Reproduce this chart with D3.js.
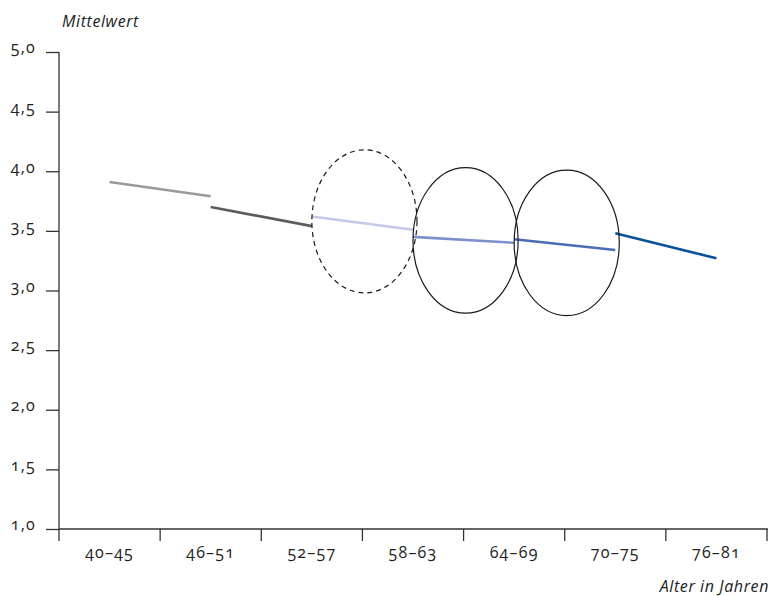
<!DOCTYPE html>
<html><head><meta charset="utf-8">
<script src="https://cdn.jsdelivr.net/npm/d3@7"></script>
<style>
body{margin:0;background:#fff;}
text{font-family:"Open Sans","Noto Sans",sans-serif;font-variant-numeric:oldstyle-nums;fill:#222;}
</style></head><body>
<svg id="c" width="771" height="596"></svg>
<script>
const categories = ["40–45","46–51","52–57","58–63","64–69","70–75","76–81"];
const yTicks = [1.0,1.5,2.0,2.5,3.0,3.5,4.0,4.5,5.0];
// segment: from category index i to i+1, start value, end value, color
const segStart = [3.91, 3.70, 3.62, 3.45, 3.43, 3.48];
const segEnd   = [3.79, 3.54, 3.51, 3.40, 3.34, 3.27];
const segColors = ["#9a9a9a","#5c5c5c","#c3c9e6","#7d90cb","#4a6cb4","#0c4f9c"];
// ellipses around segments: segment index, centre value, half-height (value units), dashed
const ellSeg = [2, 3, 4];
const ellCenter = [3.58, 3.42, 3.40];
const ellHalf = [0.60, 0.61, 0.61];
const ellDashed = [true, false, false];

const svg = d3.select("#c");
const x = d3.scaleBand().domain(categories).range([59, 767]);
const y = d3.scaleLinear().domain([1, 5]).range([529, 52]);
const cx = i => x(categories[i]) + x.bandwidth()/2;
const fmt = d => d.toFixed(1).replace(".", ",");

// y axis
const ya = svg.append("g").attr("transform","translate(59,0)")
  .call(d3.axisLeft(y).tickValues(yTicks).tickFormat(fmt).tickSize(13).tickPadding(10));
ya.select(".domain").attr("stroke","#333").attr("stroke-width",1.3).attr("d","M0,52V529");
ya.selectAll(".tick line").attr("stroke","#333").attr("stroke-width",1.3);
ya.selectAll(".tick text").style("font-size","16px").style("letter-spacing","1.2px").attr("dy","0.05em");

// x axis
const xa = svg.append("g").attr("transform","translate(0,529)")
  .call(d3.axisBottom(x).tickSize(0).tickPadding(18));
xa.select(".domain").attr("stroke","#333").attr("stroke-width",1.3).attr("d","M59,0H768");
xa.selectAll(".tick text").style("font-size","16px").style("letter-spacing","1.2px");
xa.selectAll(".bt").data(categories).enter().append("line")
  .attr("x1",d=>x(d)).attr("x2",d=>x(d)).attr("y1",0).attr("y2",12)
  .attr("stroke","#333").attr("stroke-width",1.3);
xa.append("line").attr("x1",767).attr("x2",767).attr("y1",0).attr("y2",12)
  .attr("stroke","#333").attr("stroke-width",1.3);

// segments
svg.append("g").selectAll("line").data(segStart).enter().append("line")
  .attr("x1",(d,i)=>cx(i)).attr("x2",(d,i)=>cx(i+1))
  .attr("y1",d=>y(d)).attr("y2",(d,i)=>y(segEnd[i]))
  .attr("stroke",(d,i)=>segColors[i]).attr("stroke-width",2.6);

// ellipses
svg.append("g").selectAll("ellipse").data(ellSeg).enter().append("ellipse")
  .attr("cx",d=>(cx(d)+cx(d+1))/2 + 2)
  .attr("cy",(d,i)=>y(ellCenter[i]))
  .attr("rx",d=>(cx(d+1)-cx(d))/2 + 2)
  .attr("ry",(d,i)=>y(ellCenter[i]-ellHalf[i]) - y(ellCenter[i]))
  .attr("fill","none").attr("stroke","#1a1a1a").attr("stroke-width",1.2)
  .attr("stroke-dasharray",(d,i)=>ellDashed[i]?"5,4":null);

// titles
svg.append("text").attr("x",62).attr("y",27).style("font-size","16px").style("letter-spacing","0.6px").style("font-style","italic").text("Mittelwert");
svg.append("text").attr("x",769).attr("y",592).attr("text-anchor","end").style("font-size","16px").style("letter-spacing","0.6px").style("font-style","italic").text("Alter in Jahren");
</script>
</body></html>
